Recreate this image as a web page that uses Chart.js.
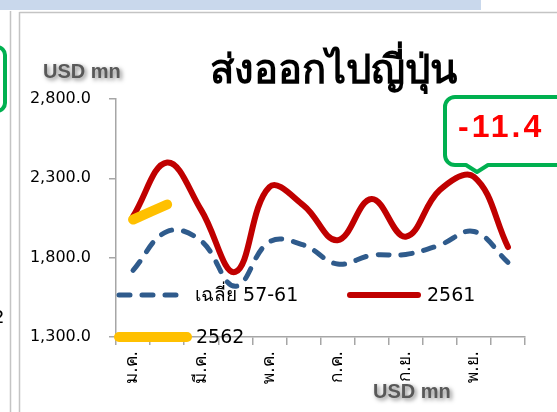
<!DOCTYPE html>
<html>
<head>
<meta charset="utf-8">
<script src="https://cdn.jsdelivr.net/npm/chart.js@4/dist/chart.umd.min.js"></script>
<style>
  html, body { margin: 0; padding: 0; background: #ffffff; }
  #wrap { position: relative; width: 557px; height: 412px; overflow: hidden; }
  canvas { display: block; }
</style>
</head>
<body>
<div id="wrap"><canvas id="c" width="557" height="412"></canvas></div>
<script>
// ---- data ----
const months = ['ม.ค.','ก.พ.','มี.ค.','เม.ย.','พ.ค.','มิ.ย.','ก.ค.','ส.ค.','ก.ย.','ต.ค.','พ.ย.','ธ.ค.'];
const avg5761 = [1720, 1965, 1905, 1620, 1900, 1880, 1760, 1815, 1820, 1880, 1965, 1770];
const y2561   = [2060, 2400, 2100, 1710, 2245, 2130, 1910, 2170, 1932, 2226, 2310, 1867];
const y2562   = [2040, 2135];
const yTicks  = [1300, 1800, 2300, 2800];
const titleText = 'ส่งออกไปญี่ปุ่น';
const unitText = 'USD mn';
const calloutText = '-11.4';
const seriesNames = ['เฉลี่ย 57-61', '2561', '2562'];

const BLUE = '#2f5b8c', RED = '#c00000', YELLOW = '#ffc000', GREEN = '#00b050';
const FONT = "'DejaVu Sans', 'Noto Sans', sans-serif";

function fmt(v) {
  return v.toLocaleString('en-US', {minimumFractionDigits: 1, maximumFractionDigits: 1});
}

const overlay = {
  id: 'overlay',
  beforeDraw(chart) {
    const ctx = chart.ctx;
    ctx.save();
    ctx.fillStyle = '#ffffff';
    ctx.fillRect(0, 0, chart.width, chart.height);
    // slide decorations
    ctx.fillStyle = '#c9d8ec';
    ctx.fillRect(0, 0, 481, 10);
    ctx.strokeStyle = '#c4c4c4';
    ctx.lineWidth = 1.5;
    ctx.beginPath();
    ctx.moveTo(10.5, 11); ctx.lineTo(10.5, 412);
    ctx.moveTo(19.5, 12); ctx.lineTo(19.5, 412);
    ctx.moveTo(19.5, 12.5); ctx.lineTo(557, 12.5);
    ctx.stroke();
    // green box on left edge
    ctx.strokeStyle = GREEN;
    ctx.lineWidth = 4;
    ctx.beginPath();
    ctx.roundRect(-20, 47, 25, 64, 8);
    ctx.stroke();
    ctx.fillStyle = '#000';
    ctx.font = '18px ' + FONT;
    ctx.textBaseline = 'middle';
    ctx.fillText('2', -7, 318);
    ctx.restore();
  },
  afterDraw(chart) {
    const ctx = chart.ctx;
    const ds = chart.data.datasets;
    ctx.save();
    // title
    ctx.fillStyle = '#000';
    ctx.font = 'bold 40px ' + FONT;
    ctx.textAlign = 'center';
    ctx.textBaseline = 'alphabetic';
    ctx.fillText(titleText, 333, 83);
    // unit labels with shadow
    ctx.font = "bold 20px 'Liberation Sans', Arial, sans-serif";
    ctx.fillStyle = '#595959';
    ctx.shadowColor = 'rgba(0,0,0,0.5)';
    ctx.shadowBlur = 4; ctx.shadowOffsetX = 2; ctx.shadowOffsetY = 2;
    ctx.textAlign = 'left';
    ctx.textBaseline = 'middle';
    ctx.fillText(unitText, 43, 72);
    ctx.fillText(unitText, 373, 392);
    ctx.shadowColor = 'transparent'; ctx.shadowBlur = 0; ctx.shadowOffsetX = 0; ctx.shadowOffsetY = 0;

    // legend (inside plot area)
    const items = [
      {ds: ds[0], x1: 119, x2: 183, y: 295, tx: 195},
      {ds: ds[1], x1: 350, x2: 418, y: 295, tx: 427},
      {ds: ds[2], x1: 119, x2: 187, y: 337, tx: 196}
    ];
    ctx.font = '19px ' + FONT;
    ctx.textBaseline = 'middle';
    items.forEach(it => {
      ctx.strokeStyle = it.ds.borderColor;
      ctx.lineWidth = it.ds.borderWidth;
      ctx.lineCap = 'round';
      ctx.setLineDash(it.ds.borderDash || []);
      ctx.beginPath(); ctx.moveTo(it.x1, it.y); ctx.lineTo(it.x2, it.y); ctx.stroke();
      ctx.setLineDash([]);
      ctx.fillStyle = '#000';
      ctx.fillText(it.ds.label, it.tx, it.y + 1);
    });

    // callout
    ctx.strokeStyle = GREEN;
    ctx.lineWidth = 4;
    ctx.lineJoin = 'round';
    const L = 445, T = 97, R = 575, B = 165, r = 10;
    ctx.beginPath();
    ctx.moveTo(L + r, T);
    ctx.lineTo(R - r, T);
    ctx.arcTo(R, T, R, T + r, r);
    ctx.lineTo(R, B - r);
    ctx.arcTo(R, B, R - r, B, r);
    ctx.lineTo(488, B);
    ctx.lineTo(477, 172);
    ctx.lineTo(466, B);
    ctx.lineTo(L + r, B);
    ctx.arcTo(L, B, L, B - r, r);
    ctx.lineTo(L, T + r);
    ctx.arcTo(L, T, L + r, T, r);
    ctx.closePath();
    ctx.stroke();
    ctx.fillStyle = '#ff0000';
    ctx.font = "bold 32px 'Liberation Sans', Arial, sans-serif";
    ctx.textAlign = 'left';
    ctx.textBaseline = 'middle';
    try { ctx.letterSpacing = '3px'; } catch (e) {}
    ctx.fillText(calloutText, 458, 128);
    try { ctx.letterSpacing = '0px'; } catch (e) {}
    ctx.restore();
  }
};

new Chart(document.getElementById('c'), {
  type: 'line',
  data: {
    labels: months,
    datasets: [
      {label: seriesNames[0], data: avg5761, borderColor: BLUE, borderWidth: 5,
       borderDash: [11, 12], borderCapStyle: 'round', tension: 0.4, pointRadius: 0, order: 1},
      {label: seriesNames[1], data: y2561, borderColor: RED, borderWidth: 6,
       borderCapStyle: 'round', tension: 0.4, pointRadius: 0, order: 2},
      {label: seriesNames[2], data: y2562, borderColor: YELLOW, borderWidth: 10,
       borderCapStyle: 'round', tension: 0.4, pointRadius: 0, order: 0}
    ]
  },
  options: {
    responsive: false,
    animation: false,
    devicePixelRatio: 1,
    layout: {padding: {left: 0, right: 32, top: 99, bottom: 0}},
    plugins: {legend: {display: false}, title: {display: false}, tooltip: {enabled: false}},
    scales: {
      x: {
        offset: true,
        grid: {offset: true, drawOnChartArea: false, drawTicks: true, tickLength: 8, color: '#a6a6a6', lineWidth: 1.5},
        border: {display: true, color: '#a6a6a6', width: 1.5},
        ticks: {
          autoSkip: false, minRotation: 90, maxRotation: 90, padding: 6,
          color: '#000', font: {family: FONT, size: 17},
          callback: function(v, i) { return i % 2 === 0 ? months[i] : ''; }
        },
        afterFit: s => { s.height = 75; }
      },
      y: {
        min: yTicks[0], max: yTicks[yTicks.length - 1],
        afterBuildTicks: s => { s.ticks = yTicks.map(v => ({value: v})); },
        grid: {drawOnChartArea: false, drawTicks: true, tickLength: 7, color: '#a6a6a6', lineWidth: 1.5},
        border: {display: true, color: '#a6a6a6', width: 1.5},
        ticks: {padding: 18, color: '#000', font: {family: FONT, size: 16}, callback: v => fmt(v)},
        afterFit: s => { s.width = 116; }
      }
    }
  },
  plugins: [overlay]
});
</script>
</body>
</html>
